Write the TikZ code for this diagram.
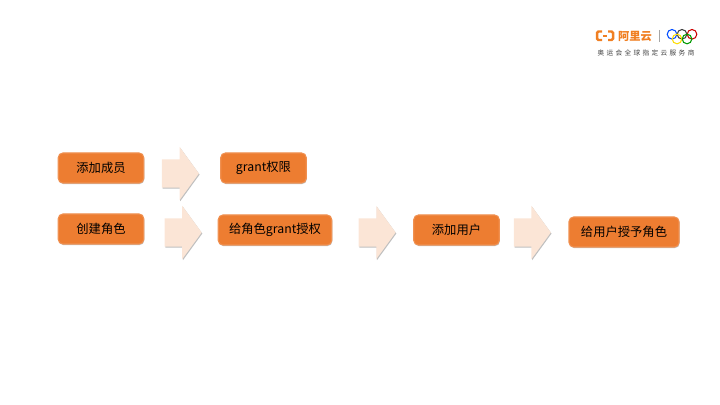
\documentclass[tikz,border=0pt]{standalone}
\usepackage{fontspec}
\setmainfont{Noto Sans CJK SC}
\newfontfamily\sloganfont[LetterSpace=35]{Noto Sans CJK SC}
\usetikzlibrary{shapes.arrows,shadows}
\definecolor{boxorange}{HTML}{ED7D31}
\definecolor{arrowpeach}{HTML}{FBE5D6}
\definecolor{logoorange}{HTML}{F07F22}

\tikzset{
  stepbox/.style={draw=boxorange!85!white,fill=boxorange,rounded corners=1.3pt,line width=0.3pt,
    minimum height=0.3cm,inner sep=0,font=\fontsize{3.5pt}{4pt}\selectfont,text=black,
    drop shadow={shadow xshift=0.15pt,shadow yshift=-0.3pt,fill=black,opacity=0.25}},
  bigarrow/.style={single arrow,fill=arrowpeach,draw=none,inner sep=0,minimum height=0.37cm,
    text height=0.267cm,text depth=0pt,text width=0.01cm,
    minimum width=0.52cm,single arrow head extend=0.126cm,single arrow tip angle=108,
    drop shadow={shadow xshift=0.2pt,shadow yshift=-0.3pt,fill=black,opacity=0.25}},
  ring/.style={line width=0.3pt,radius=0.048}
}

\begin{document}
\begin{tikzpicture}
  \useasboundingbox (0,0) rectangle (7.2,-4.05);
  % top row
  \node[stepbox,minimum width=0.855cm] (addmember) at (1.01,-1.68) {添加成员};
  \node[stepbox,minimum width=0.855cm] (grantperm) at (2.635,-1.68) {grant权限};
  % lower row
  \node[stepbox,minimum width=0.855cm] (createrole) at (1.01,-2.29) {创建角色};
  \node[stepbox,minimum width=1.135cm] (grantrole) at (2.75,-2.30) {给角色grant授权};
  \node[stepbox,minimum width=0.855cm] (adduser) at (4.565,-2.30) {添加用户};
  \node[stepbox,minimum width=1.10cm] (assignrole) at (6.24,-2.32) {给用户授予角色};
  % block arrows
  \node[bigarrow] (arrowa) at (1.753,-1.735) {};
  \node[bigarrow] (arrowb) at (1.78,-2.325) {};
  \node[bigarrow] (arrowc) at (3.72,-2.325) {};
  \node[bigarrow] (arrowd) at (5.272,-2.325) {};
  % logo
  \draw[logoorange,line width=0.7pt,rounded corners=0.4pt] (6.02,-0.315) -- (5.97,-0.315) -- (5.97,-0.40) -- (6.02,-0.40);
  \draw[logoorange,line width=0.7pt,rounded corners=0.4pt] (6.08,-0.315) -- (6.13,-0.315) -- (6.13,-0.40) -- (6.08,-0.40);
  \draw[logoorange,line width=0.5pt] (6.03,-0.358) -- (6.07,-0.358);
  \node[inner sep=0,text=logoorange,font=\bfseries\fontsize{3.2pt}{4pt}\selectfont] (brand) at (6.35,-0.36) {阿里云};
  \draw[black!35,line width=0.2pt] (6.59,-0.30) -- (6.59,-0.42);
  \draw[ring,draw=blue!70!cyan] (6.72,-0.343) circle;
  \draw[ring,draw=black!75] (6.82,-0.343) circle;
  \draw[ring,draw=red!80!black] (6.92,-0.343) circle;
  \draw[ring,draw=yellow!80!orange] (6.77,-0.39) circle;
  \draw[ring,draw=green!60!black] (6.87,-0.39) circle;
  \node[inner sep=0,text=black!75,font=\sloganfont\fontsize{1.9pt}{2.5pt}\selectfont] (slogan) at (6.46,-0.53) {奥运会全球指定云服务商};
\end{tikzpicture}
\end{document}
